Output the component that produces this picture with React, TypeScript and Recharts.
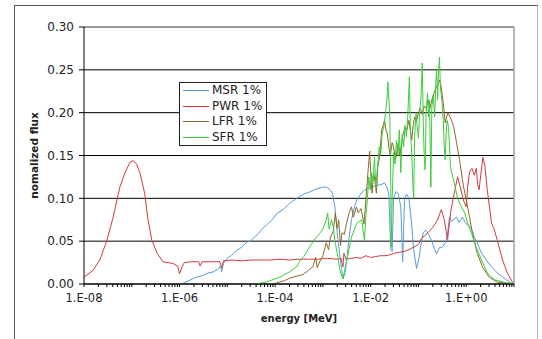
import React from 'react';
import { LineChart, Line, XAxis, YAxis, CartesianGrid, Legend, ReferenceLine } from 'recharts';

// ---- series names / colours ----
const seriesNames = ['MSR 1%', 'PWR 1%', 'LFR 1%', 'SFR 1%'];
const seriesColors = ['#5b9bd5', '#d23a3c', '#8c6a2a', '#3ccd3c'];

// ---- data: log10(energy [MeV]) and normalized flux ----
const msrLogE = [-5.96, -5.8, -5.65, -5.51, -5.4, -5.3, -5.18, -5.14, -5.12, -5.08, -5.0, -4.92, -4.85, -4.78, -4.7, -4.59, -4.52, -4.45, -4.36, -4.26, -4.12, -4.05, -3.97, -3.83, -3.7, -3.55, -3.4, -3.25, -3.13, -3.0, -2.92, -2.85, -2.8, -2.75, -2.7, -2.65, -2.61, -2.58, -2.54, -2.5, -2.45, -2.4, -2.34, -2.29, -2.2, -2.09, -1.98, -1.88, -1.78, -1.71, -1.66, -1.62, -1.58, -1.55, -1.52, -1.47, -1.42, -1.37, -1.33, -1.29, -1.25, -1.2, -1.15, -1.1, -1.04, -0.99, -0.95, -0.9, -0.85, -0.79, -0.72, -0.66, -0.62, -0.57, -0.5, -0.44, -0.4, -0.35, -0.3, -0.25, -0.2, -0.15, -0.08, -0.02, 0.04, 0.1, 0.17, 0.23, 0.32, 0.42, 0.53, 0.65, 0.84, 0.98];
const msrFlux = [0.0, 0.004, 0.008, 0.01, 0.013, 0.014, 0.018, 0.021, 0.014, 0.024, 0.03, 0.033, 0.037, 0.04, 0.043, 0.049, 0.05, 0.054, 0.058, 0.065, 0.072, 0.076, 0.082, 0.087, 0.094, 0.1, 0.105, 0.108, 0.111, 0.113, 0.113, 0.11, 0.106, 0.09, 0.06, 0.035, 0.018, 0.006, 0.012, 0.028, 0.055, 0.075, 0.09, 0.098, 0.106, 0.111, 0.113, 0.115, 0.116, 0.118, 0.113, 0.105, 0.04, 0.038, 0.1, 0.108, 0.105, 0.09, 0.026, 0.1, 0.105, 0.1, 0.075, 0.04, 0.018, 0.03, 0.045, 0.06, 0.063, 0.058, 0.05, 0.04, 0.035, 0.042, 0.043, 0.048, 0.055, 0.078, 0.073, 0.076, 0.078, 0.072, 0.078, 0.072, 0.068, 0.066, 0.055, 0.048, 0.036, 0.028, 0.02, 0.013, 0.005, 0.0];

const pwrLogE = [-8.0, -7.81, -7.67, -7.52, -7.39, -7.25, -7.14, -7.04, -6.97, -6.9, -6.83, -6.73, -6.66, -6.58, -6.47, -6.35, -6.14, -6.04, -6.0, -5.95, -5.9, -5.75, -5.6, -5.57, -5.53, -5.35, -5.16, -5.12, -5.08, -4.9, -4.7, -4.5, -4.3, -4.1, -3.9, -3.7, -3.5, -3.3, -3.1, -2.9, -2.7, -2.62, -2.58, -2.56, -2.52, -2.4, -2.3, -2.2, -2.1, -2.0, -1.9, -1.8, -1.7, -1.6, -1.5, -1.4, -1.3, -1.2, -1.1, -1.0, -0.94, -0.8, -0.7, -0.6, -0.52, -0.46, -0.39, -0.32, -0.25, -0.18, -0.12, -0.06, 0.0, 0.03, 0.07, 0.12, 0.17, 0.21, 0.24, 0.27, 0.31, 0.35, 0.39, 0.44, 0.53, 0.59, 0.65, 0.76, 0.86, 0.97, 1.0];
const pwrFlux = [0.008, 0.016, 0.028, 0.051, 0.078, 0.113, 0.13, 0.142, 0.144, 0.14, 0.13, 0.106, 0.075, 0.051, 0.036, 0.026, 0.024, 0.021, 0.012, 0.02, 0.025, 0.026, 0.026, 0.021, 0.026, 0.026, 0.026, 0.019, 0.027, 0.028, 0.027, 0.028, 0.028, 0.028, 0.029, 0.028, 0.029, 0.029, 0.029, 0.03, 0.029, 0.03, 0.02, 0.036, 0.029, 0.03, 0.031, 0.03, 0.033, 0.031, 0.032, 0.033, 0.033, 0.034, 0.036, 0.037, 0.038, 0.04, 0.043, 0.046, 0.053, 0.06, 0.066, 0.075, 0.087, 0.075, 0.052, 0.086, 0.106, 0.125, 0.112, 0.098, 0.09, 0.113, 0.131, 0.135, 0.127, 0.135, 0.116, 0.11, 0.13, 0.148, 0.138, 0.11, 0.071, 0.063, 0.051, 0.028, 0.013, 0.002, 0.0];

const lfrLogE = [-4.05, -3.8, -3.69, -3.42, -3.3, -3.21, -3.15, -3.12, -3.05, -3.0, -2.93, -2.88, -2.84, -2.78, -2.74, -2.7, -2.67, -2.63, -2.6, -2.55, -2.5, -2.45, -2.4, -2.36, -2.3, -2.26, -2.2, -2.14, -2.08, -2.05, -2.02, -1.99, -1.97, -1.94, -1.91, -1.88, -1.85, -1.81, -1.77, -1.74, -1.71, -1.68, -1.65, -1.62, -1.59, -1.55, -1.52, -1.48, -1.45, -1.42, -1.39, -1.35, -1.32, -1.28, -1.24, -1.2, -1.17, -1.14, -1.11, -1.08, -1.04, -1.0, -0.96, -0.92, -0.88, -0.84, -0.8, -0.76, -0.72, -0.68, -0.64, -0.6, -0.56, -0.53, -0.5, -0.47, -0.44, -0.41, -0.38, -0.34, -0.3, -0.26, -0.2, -0.14, -0.07, 0.0, 0.07, 0.13, 0.23, 0.34, 0.48, 0.65, 1.0];
const lfrFlux = [0.0, 0.004, 0.007, 0.011, 0.016, 0.02, 0.031, 0.019, 0.028, 0.033, 0.048, 0.04, 0.055, 0.062, 0.083, 0.065, 0.075, 0.045, 0.06, 0.058, 0.072, 0.083, 0.09, 0.078, 0.09, 0.083, 0.088, 0.07, 0.113, 0.135, 0.155, 0.12, 0.106, 0.13, 0.12, 0.106, 0.137, 0.15, 0.18, 0.185, 0.191, 0.18, 0.175, 0.16, 0.15, 0.165, 0.16, 0.145, 0.155, 0.165, 0.15, 0.165, 0.175, 0.183, 0.18, 0.191, 0.18, 0.168, 0.185, 0.195, 0.19, 0.2, 0.205, 0.198, 0.208, 0.205, 0.215, 0.205, 0.215, 0.222, 0.228, 0.232, 0.238, 0.232, 0.22, 0.205, 0.188, 0.195, 0.2, 0.195, 0.19, 0.183, 0.164, 0.145, 0.118, 0.098, 0.078, 0.059, 0.036, 0.02, 0.008, 0.002, 0.0];

const sfrLogE = [-4.4, -4.2, -3.9, -3.7, -3.55, -3.47, -3.4, -3.28, -3.2, -3.13, -3.07, -3.0, -2.93, -2.9, -2.87, -2.82, -2.78, -2.75, -2.7, -2.64, -2.58, -2.5, -2.4, -2.29, -2.19, -2.13, -2.1, -2.07, -2.04, -2.01, -1.98, -1.95, -1.92, -1.89, -1.86, -1.82, -1.79, -1.76, -1.72, -1.69, -1.66, -1.64, -1.62, -1.6, -1.58, -1.57, -1.55, -1.52, -1.49, -1.46, -1.43, -1.4, -1.37, -1.34, -1.31, -1.28, -1.25, -1.22, -1.19, -1.17, -1.14, -1.12, -1.1, -1.08, -1.05, -1.03, -1.0, -0.97, -0.95, -0.92, -0.9, -0.88, -0.86, -0.84, -0.81, -0.79, -0.77, -0.75, -0.74, -0.72, -0.69, -0.66, -0.64, -0.62, -0.6, -0.58, -0.56, -0.54, -0.51, -0.48, -0.46, -0.44, -0.42, -0.4, -0.37, -0.35, -0.33, -0.3, -0.25, -0.18, -0.1, -0.03, 0.03, 0.11, 0.21, 0.32, 0.44, 0.59, 0.8, 1.0];
const sfrFlux = [0.0, 0.002, 0.008, 0.014, 0.02, 0.028, 0.032, 0.043, 0.05, 0.055, 0.059, 0.064, 0.075, 0.083, 0.064, 0.075, 0.066, 0.051, 0.036, 0.015, 0.006, 0.028, 0.055, 0.071, 0.075, 0.051, 0.08, 0.098, 0.125, 0.11, 0.13, 0.12, 0.148, 0.113, 0.135, 0.16, 0.15, 0.175, 0.185, 0.2, 0.215, 0.236, 0.215, 0.199, 0.12, 0.043, 0.1, 0.153, 0.14, 0.168, 0.15, 0.18, 0.13, 0.175, 0.16, 0.185, 0.172, 0.2, 0.242, 0.185, 0.15, 0.121, 0.1, 0.172, 0.2, 0.185, 0.17, 0.205, 0.215, 0.258, 0.19, 0.15, 0.133, 0.2, 0.223, 0.195, 0.215, 0.15, 0.113, 0.207, 0.22, 0.195, 0.23, 0.25, 0.215, 0.245, 0.265, 0.23, 0.214, 0.191, 0.16, 0.145, 0.175, 0.191, 0.183, 0.16, 0.137, 0.129, 0.118, 0.1, 0.09, 0.083, 0.071, 0.059, 0.043, 0.028, 0.013, 0.005, 0.002, 0.0];

// ---- axis ticks ----
const yTicks = [0, 0.05, 0.1, 0.15, 0.2, 0.25, 0.3];
const xDecades = [-8, -7, -6, -5, -4, -3, -2, -1, 0];
const xMultipliers = [1, 2, 3, 4, 5, 6, 7, 8, 9];
const xLabelDecades = [-8, -6, -4, -2, 0];

const xTicks: number[] = [];
xDecades.forEach((d) => xMultipliers.forEach((m) => xTicks.push(Number((m * Math.pow(10, d)).toPrecision(6)))));
xTicks.push(10);

const toRows = (logE: number[], flux: number[]) =>
  logE.map((e, i) => ({ E: Math.pow(10, e), v: flux[i] }));

const series = [
  { name: seriesNames[0], color: seriesColors[0], data: toRows(msrLogE, msrFlux) },
  { name: seriesNames[1], color: seriesColors[1], data: toRows(pwrLogE, pwrFlux) },
  { name: seriesNames[2], color: seriesColors[2], data: toRows(lfrLogE, lfrFlux) },
  { name: seriesNames[3], color: seriesColors[3], data: toRows(sfrLogE, sfrFlux) },
];

const FONT = '"DejaVu Sans", Verdana, sans-serif';

const fmtE = (exp: number) => {
  const a = Math.abs(exp);
  return '1.E' + (exp < 0 ? '-' : '+') + (a < 10 ? '0' + a : String(a));
};

const XTick = (props: any) => {
  const { x, y, payload } = props;
  const v = payload.value as number;
  const exp = Math.round(Math.log10(v));
  const isDecade = Math.abs(v / Math.pow(10, exp) - 1) < 1e-6;
  if (!isDecade || xLabelDecades.indexOf(exp) < 0) return <g />;
  return (
    <text x={x} y={y + 12} textAnchor="middle" fontFamily={FONT} fontSize={11.5} fill="#222">
      {fmtE(exp)}
    </text>
  );
};

const LegendBox = (props: any) => {
  const payload = [...(props.payload || [])].sort(
    (a: any, b: any) => seriesNames.indexOf(a.value) - seriesNames.indexOf(b.value)
  );
  return (
    <div
      style={{
        border: '1px solid #222',
        background: '#fff',
        width: 86,
        height: 62,
        boxSizing: 'content-box',
        fontFamily: FONT,
        fontSize: 12,
        color: '#222',
      }}
    >
      {payload.map((p: any) => (
        <div key={p.value} style={{ height: 15.5, display: 'flex', alignItems: 'center' }}>
          <div style={{ marginLeft: 3, width: 26, height: 1, background: p.color }} />
          <span style={{ marginLeft: 3, whiteSpace: 'nowrap', lineHeight: '15px', color: '#222' }}>{p.value}</span>
        </div>
      ))}
    </div>
  );
};

export default function App() {
  return (
    <div style={{ position: 'absolute', left: 0, top: 0, width: 542, height: 339, background: '#fff', overflow: 'hidden' }}>
      <div
        style={{
          position: 'absolute',
          left: 14,
          top: 5,
          width: 522,
          height: 340,
          borderLeft: '1px solid #555',
          borderTop: '1px solid #555',
          borderRight: '1px solid #bbb',
        }}
      />
      <LineChart width={542} height={339} margin={{ top: 27, right: 28, bottom: 15, left: 24 }}>
        <CartesianGrid horizontal vertical={false} stroke="#000" strokeWidth={1} />
        <XAxis
          dataKey="E"
          type="number"
          scale="log"
          domain={[1e-8, 10]}
          ticks={xTicks}
          interval={0}
          height={40}
          axisLine={{ stroke: '#000', strokeWidth: 1 }}
          tickLine={{ stroke: '#000' }}
          tickSize={3}
          tickMargin={3}
          tick={<XTick />}
          allowDataOverflow
        />
        <YAxis
          type="number"
          domain={[0, 0.3]}
          ticks={yTicks}
          width={60}
          axisLine={{ stroke: '#000', strokeWidth: 1 }}
          tickLine={{ stroke: '#000' }}
          tickSize={5}
          tickMargin={5}
          tickFormatter={(v: number) => v.toFixed(2)}
          tick={{ fontFamily: FONT, fontSize: 12, fill: '#222' }}
        />
        <ReferenceLine y={0.3} stroke="#b0b0b0" strokeWidth={1} />
        <ReferenceLine x={10} stroke="#a0a0a0" strokeWidth={1.5} />
        {series.map((s) => (
          <Line
            key={s.name}
            name={s.name}
            data={s.data}
            dataKey="v"
            type="linear"
            stroke={s.color}
            strokeWidth={1}
            dot={false}
            activeDot={false}
            isAnimationActive={false}
          />
        ))}
        <Legend
          layout="vertical"
          align="center"
          verticalAlign="middle"
          content={<LegendBox />}
          wrapperStyle={{ left: 179, top: 82, width: 88, height: 64 }}
        />
      </LineChart>
      <svg width={542} height={339} style={{ position: 'absolute', left: 0, top: 0, pointerEvents: 'none' }}>
        <text
          x={0}
          y={0}
          transform="translate(38,155.5) rotate(-90)"
          textAnchor="middle"
          fontFamily={FONT}
          fontSize={10.5}
          fontWeight="bold"
          fill="#222"
        >
          nomalized flux
        </text>
        <text x={299} y={322} textAnchor="middle" fontFamily={FONT} fontSize={10} fontWeight="bold" fill="#222">
          energy [MeV]
        </text>
      </svg>
    </div>
  );
}
